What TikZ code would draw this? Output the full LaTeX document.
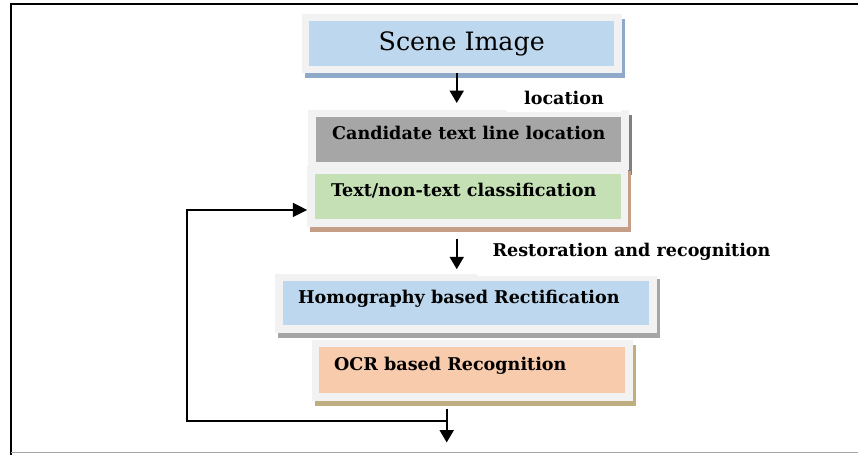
\documentclass[tikz,border=0pt]{standalone}
\usepackage{fontspec}
\setmainfont{DejaVu Serif}
\usetikzlibrary{arrows.meta}
\usetikzlibrary{shadows}

\definecolor{framegray}{HTML}{F2F2F2}
\definecolor{sceneblue}{HTML}{BDD7EE}
\definecolor{candgray}{HTML}{A6A6A6}
\definecolor{classgreen}{HTML}{C5E0B4}
\definecolor{ocrpeach}{HTML}{F8CBAD}
\definecolor{sceneshade}{HTML}{8EA9C9}
\definecolor{candshade}{HTML}{7F7F7F}
\definecolor{classshade}{HTML}{C49E86}
\definecolor{homshade}{HTML}{A5A5A5}
\definecolor{ocrshade}{HTML}{BFAE80}

\tikzset{
  stagebox/.style={draw=framegray, line width=0.15cm, inner sep=0pt},
  stageshade/.style={general shadow={fill=#1, draw=#1, line width=0.15cm,
      shadow xshift=0.06cm, shadow yshift=-0.1cm}},
  stagetext/.style={anchor=base west, inner sep=0pt, font=\fontsize{10}{12}\selectfont\bfseries},
  note/.style={fill=white, inner sep=0pt, anchor=base, font=\fontsize{10}{12}\selectfont\bfseries},
  flow/.style={line width=0.045cm, -{Triangle[length=0.25cm, width=0.28cm]}},
  backflow/.style={line width=0.035cm, -{Triangle[length=0.29cm, width=0.28cm]}}
}

\begin{document}
\begin{tikzpicture}[x=0.02cm, y=-0.02cm]
	 \useasboundingbox (0,0) rectangle (858,455);
	 % outer frame
	 \draw[line width=0.04cm] (11,455) -- (11,4) -- (858,4);
	 \draw[black!35, line width=0.03cm] (11,452.5) -- (858,452.5);
	 % stages
	 \node[stagebox, fill=sceneblue, stageshade=sceneshade, minimum width=6.25cm,
	       text height=0.67cm, text depth=0.37cm, font=\fontsize{14.4}{17}\selectfont]
	       (scene) at (461.75,43.5) {Scene Image};
	 \node[stagebox, fill=candgray, stageshade=candshade, minimum width=6.26cm,
	       minimum height=1.05cm] (cand) at (468.5,139.75) {};
	 \node[stagebox, fill=classgreen, stageshade=classshade, minimum width=6.27cm,
	       minimum height=1.06cm] (class) at (467.75,196.5) {};
	 \node[stagebox, fill=sceneblue, stageshade=homshade, minimum width=7.48cm,
	       minimum height=1.03cm] (hom) at (466,303.25) {};
	 \node[stagebox, fill=ocrpeach, stageshade=ocrshade, minimum width=6.27cm,
	       minimum height=1.07cm] (ocr) at (472.25,370.25) {};
	 \node[stagetext] (candtext) at ([xshift=0.47cm]cand.west) {Candidate text line location};
	 \node[stagetext] (classtext) at ([xshift=0.47cm]class.west) {Text/non-text classification};
	 \node[stagetext] (homtext) at ([xshift=0.45cm]hom.west) {Homography based Rectification};
	 \node[stagetext] (ocrtext) at ([xshift=0.44cm]ocr.west) {OCR based Recognition};
	 % labels
	 \node[note, minimum width=2.28cm, text depth=0.14cm] (loc) at (564,105) {location};
	 \node[note, minimum width=6.18cm, text height=0.3cm, text depth=0.39cm]
	       (rest) at (631.5,256.7) {Restoration and recognition};
	 % arrows
	 \coordinate (fork) at (446.7,421.3);
	 \coordinate (back) at (186.7,421.3);
	 \coordinate (out) at (446.7,442.5);
	 \draw[flow, shorten >=0.135cm] ([xshift=-0.1cm]scene.south) -- ([xshift=-0.1cm]scene.south |- cand.north);
	 \draw[flow, shorten <=0.24cm, shorten >=0.09cm] ([xshift=-0.22cm]class.south) -- ([xshift=-0.22cm]class.south |- hom.north);
	 \draw[flow, shorten <=0.16cm] (ocr.south -| out) -- (out);
	 \draw[backflow] (fork) -- (back) |- ([yshift=-0.27cm]class.west);
\end{tikzpicture}
\end{document}
